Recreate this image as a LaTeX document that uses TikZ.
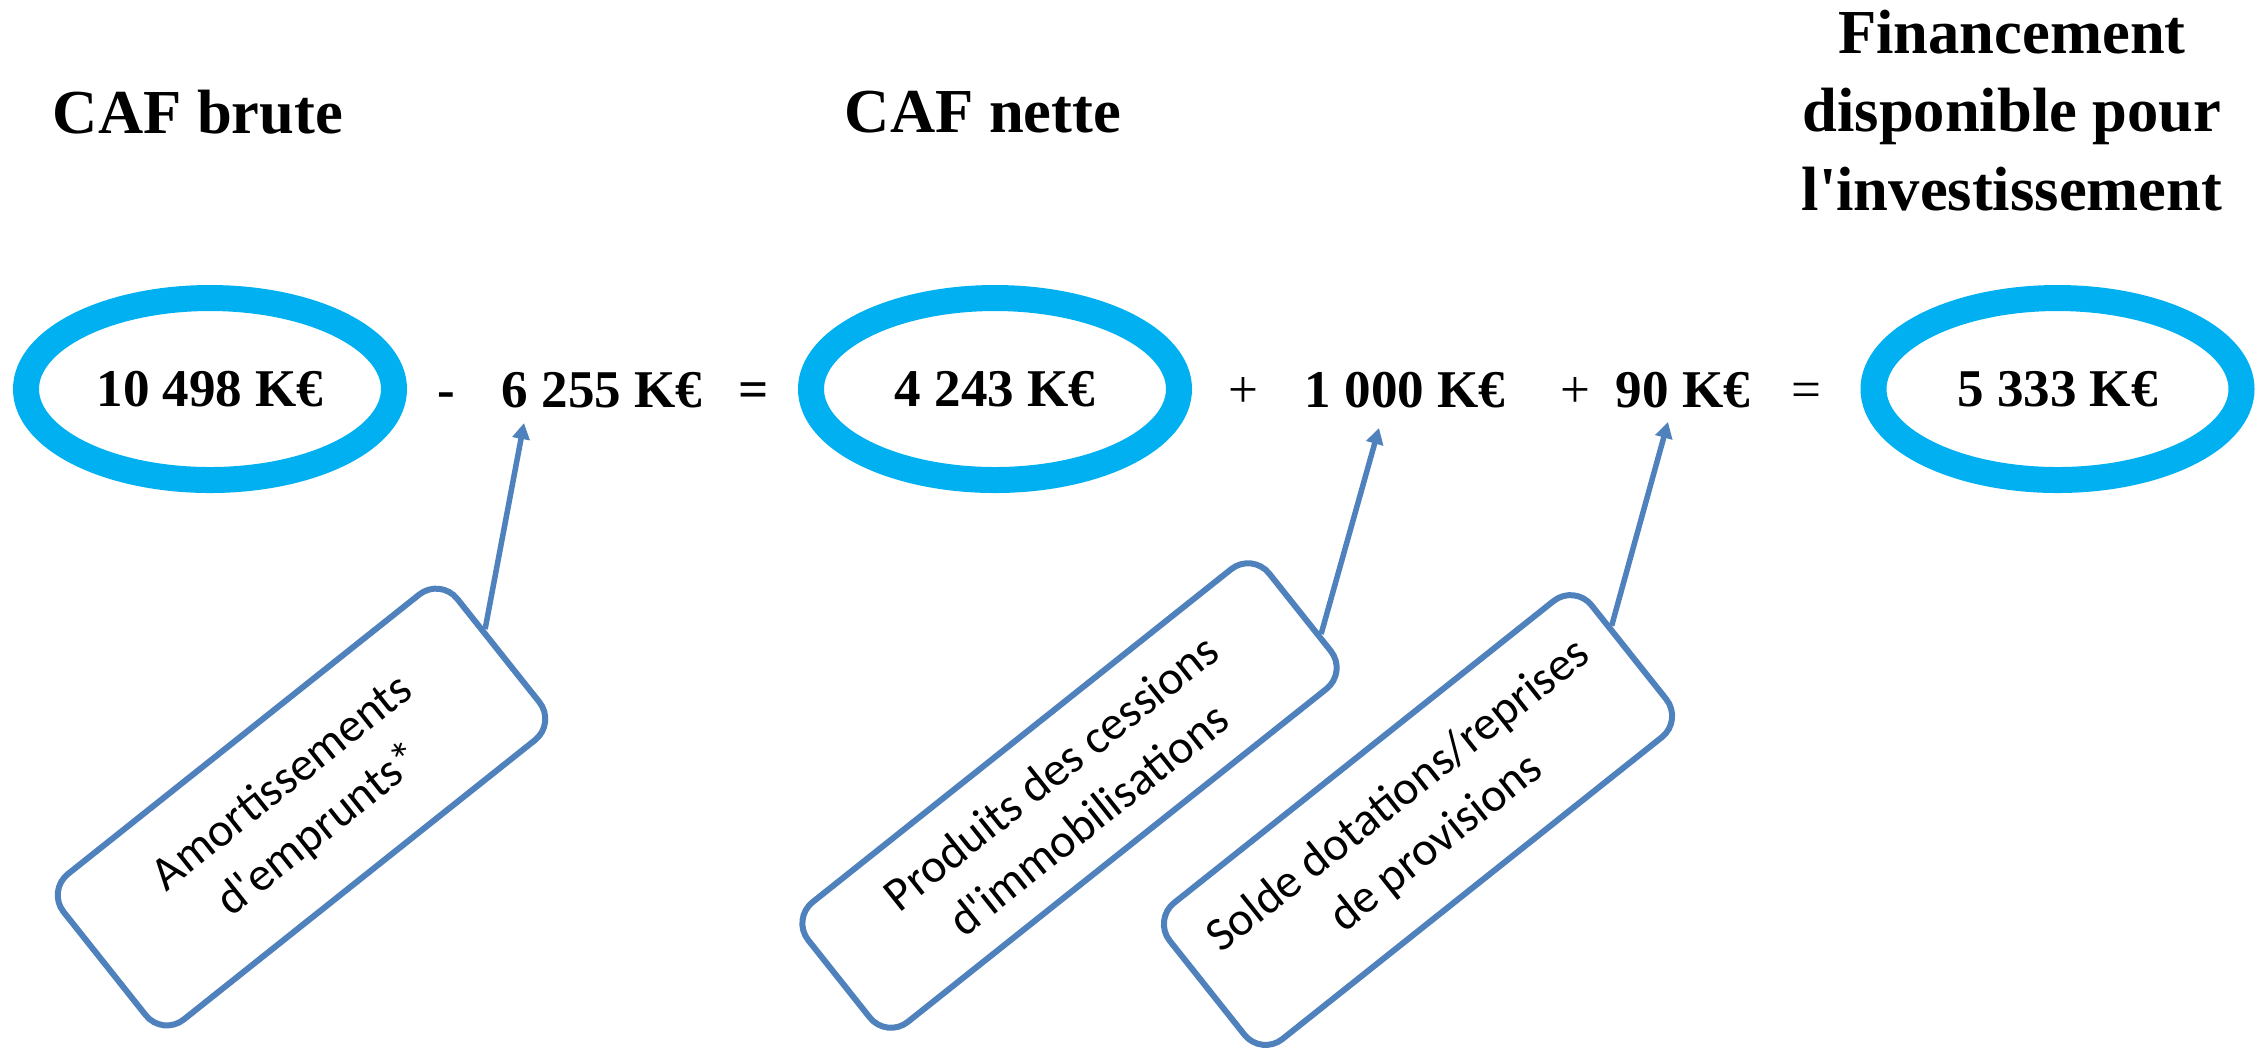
\documentclass[tikz,border=0pt]{standalone}
\usepackage{fontspec}
\setmainfont[Ligatures=TeXOff]{Liberation Serif}
\newfontfamily\boxfont[Ligatures=TeXOff]{Carlito}
\usepackage{xcolor}
\usepackage{tikz}
\usetikzlibrary{positioning,calc,arrows.meta,shapes.geometric}

\definecolor{ringblue}{HTML}{00B0F0}
\definecolor{boxblue}{HTML}{4F81BD}

\begin{document}
\begin{tikzpicture}[
		title/.style={font=\fontsize{17.8}{22.3}\selectfont\bfseries, align=center, anchor=base, inner sep=0pt},
		amount/.style={font=\fontsize{15.1}{18}\selectfont\bfseries, anchor=base, inner sep=0pt},
		sign/.style={font=\fontsize{15.1}{18}\selectfont, anchor=base, inner sep=0pt},
		ring/.style={ellipse, draw=ringblue, line width=0.26cm, minimum width=3.68cm, minimum height=1.82cm, inner sep=0pt, font=\fontsize{15.1}{18}\selectfont\bfseries},
		callout/.style={draw=boxblue, line width=0.06cm, rounded corners=0.27cm, rotate=38.5, align=center, inner sep=0pt, font=\boxfont\fontsize{13.6}{17.1}\selectfont},
		pointer/.style={draw=boxblue, line width=0.055cm, -{Triangle[width=0.17cm,length=0.16cm]}}
	]
		\useasboundingbox (0,0) rectangle (22.60,-10.58);
		
		\node[title] (tbrute) at (1.98,-1.33) {CAF brute};
		\node[title] (tnette) at (9.83,-1.32) {CAF nette};
		% base = last line
		\node[title] (tfin) at (20.12,-2.10) {Financement\\disponible pour\\l'investissement};
		
		\node[ring] (caf1) at (2.10,-3.89) {10 498 K€};
		\node[amount] (minus) at (4.46,-4.07) {-};
		\node[amount] (emprunt) at (6.02,-4.07) {6 255 K€};
		\node[amount] (eq1) at (7.54,-4.07) {=};
		\node[ring] (caf2) at (9.95,-3.89) {4 243 K€};
		\node[sign] (plus1) at (12.43,-4.07) {+};
		\node[amount] (cession) at (14.05,-4.07) {1 000 K€};
		\node[sign] (plus2) at (15.75,-4.07) {+};
		\node[amount] (provision) at (16.83,-4.07) {90 K€};
		\node[sign] (eq2) at (18.06,-4.07) {=};
		\node[ring] (fin) at (20.575,-3.89) {5 333 K€};
		
		\node[callout, minimum width=5.03cm, minimum height=1.86cm] (c1) at (3.015,-8.07) {Amortissements\\d'emprunts*};
		\node[callout, minimum width=5.89cm, minimum height=1.53cm] (c2) at (10.695,-7.955) {Produits des cessions\\d'immobilisations};
		\node[callout, minimum width=5.39cm, minimum height=1.74cm] (c3) at (14.18,-8.20) {Solde dotations/reprises\\de provisions};
		
		\coordinate (t1) at (5.24,-4.23);
		\coordinate (t2) at (13.79,-4.28);
		\coordinate (t3) at (16.68,-4.22);
		
		\draw[pointer] ($(c1.east)!0.26!(c1.north east)$) -- (t1);
		\draw[pointer] ($(c2.east)!0.38!(c2.south east)$) -- (t2);
		\draw[pointer] ($(c3.east)!0.35!(c3.north east)$) -- (t3);
\end{tikzpicture}
\end{document}
